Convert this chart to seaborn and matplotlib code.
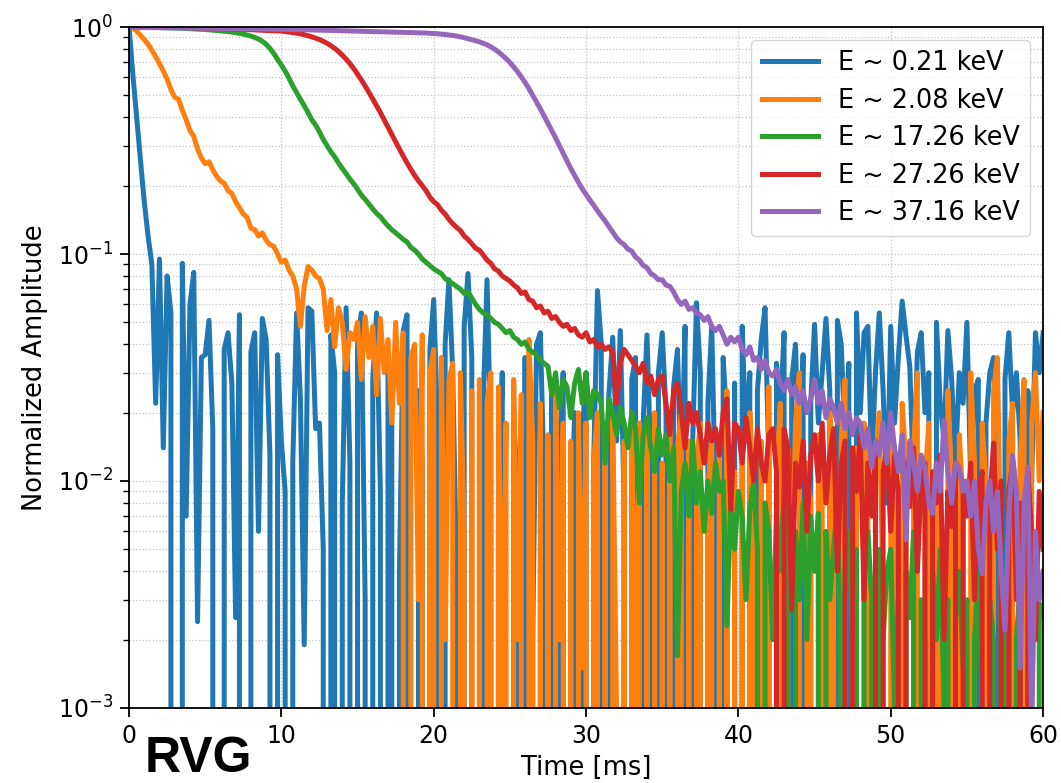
import numpy as np
import pandas as pd
import matplotlib
matplotlib.use('Agg')
import matplotlib.pyplot as plt
import seaborn as sns

# sampling step of the traces [ms]
dt = 0.25

labels = ['E ~ 0.21 keV', 'E ~ 2.08 keV', 'E ~ 17.26 keV',
          'E ~ 27.26 keV', 'E ~ 37.16 keV']
colors = ['#1f77b4', '#ff7f0e', '#2ca02c', '#d62728', '#9467bd']

# amplitudes in units of 1e-3 (1000 = 1.0), one value every 0.25 ms from 0 to 60 ms
blue = [
    1000, 620, 400, 260, 170, 120, 90, 22, 95, 14,
    80, 55, 0, 0, 91, 7, 60, 83, 2.4, 35,
    36, 51, 17, 0, 0, 38, 45, 27, 2.5, 54,
    0, 0, 37, 45, 6, 52, 42, 13, 0, 36,
    15, 9, 0, 12, 55, 23, 1.9, 58, 56, 17,
    18, 5, 0, 44, 30, 0, 8, 58, 12, 0,
    40, 55, 3, 0, 28, 55, 9, 0, 33, 20,
    0, 4, 46, 54, 0, 0, 25, 12, 0, 38,
    63, 18, 0, 40, 77, 30, 4, 0, 48, 82,
    35, 0, 0, 22, 77, 15, 0, 6, 30, 0,
    0, 18, 10, 0, 35, 0, 2, 40, 45, 10,
    0, 25, 0, 14, 30, 0, 5, 20, 0, 16,
    30, 0, 12, 69, 40, 0, 24, 43, 15, 46,
    8, 0, 28, 35, 0, 18, 44, 12, 0, 30,
    45, 20, 0, 26, 38, 10, 48, 0, 15, 61,
    30, 0, 22, 48, 8, 0, 35, 18, 0, 27,
    0, 48, 15, 30, 0, 25, 42, 58, 12, 0,
    33, 20, 45, 0, 28, 40, 10, 36, 0, 22,
    49, 18, 30, 52, 25, 0, 51, 40, 15, 33,
    0, 55, 20, 45, 48, 12, 30, 55, 25, 8,
    48, 18, 35, 62, 44, 32, 10, 37, 45, 20,
    30, 0, 50, 22, 15, 46, 28, 12, 30, 22,
    50, 10, 25, 28, 0, 18, 30, 35, 12, 0,
    28, 45, 20, 30, 15, 0, 25, 10, 45, 30,
    45]

orange = [
    1000, 990, 960, 920, 880, 840, 790, 740, 690, 640,
    590, 530, 490, 480, 430, 390, 350, 330, 290, 265,
    250, 255, 235, 220, 210, 205, 190, 185, 170, 160,
    150, 145, 130, 128, 120, 124, 115, 110, 108, 100,
    92, 94, 85, 80, 70, 48, 72, 88, 85, 80,
    78, 70, 46, 63, 39, 58, 50, 31, 45, 42,
    50, 28, 53, 35, 48, 24, 52, 30, 42, 18,
    50, 22, 45, 0, 35, 40, 3, 44, 0, 30,
    38, 0, 35, 2, 28, 33, 0, 30, 6, 0,
    25, 0, 28, 0, 22, 30, 0, 26, 1, 18,
    0, 28, 2, 24, 0, 42, 15, 0, 22, 0,
    16, 0, 26, 2, 18, 0, 15, 0, 20, 1.5,
    18, 0, 12, 20, 0, 16, 0, 19, 1, 0,
    15, 0, 20, 1, 18, 0, 16, 0, 20, 0,
    12, 0, 17, 0, 14, 20, 0, 15, 0, 12,
    18, 0, 9, 16, 0, 14, 0, 25, 0, 11,
    0, 13, 0, 20, 8, 0, 15, 0, 26, 0,
    10, 22, 0, 14, 3, 18, 30, 0, 12, 8,
    0, 16, 9, 0, 20, 12, 0, 15, 28, 0,
    6, 14, 0, 18, 10, 0, 12, 20, 3, 0,
    16, 8, 0, 22, 12, 0, 14, 30, 0, 10,
    18, 0, 12, 6, 0, 25, 10, 0, 16, 8,
    0, 30, 12, 0, 18, 10, 0, 25, 35, 4,
    0, 15, 22, 0, 12, 28, 0, 18, 30, 10,
    20]

green = [
    1000, 1000, 1000, 1000, 999, 998, 997, 996, 995, 994,
    993, 992, 990, 989, 987, 985, 983, 981, 979, 977,
    975, 972, 969, 966, 962, 958, 954, 950, 945, 938,
    930, 922, 912, 900, 885, 865, 840, 805, 765, 720,
    680, 640, 595, 550, 515, 480, 450, 420, 390, 370,
    345, 320, 300, 282, 268, 252, 238, 226, 214, 204,
    193, 182, 174, 166, 158, 151, 146, 139, 133, 128,
    124, 120, 116, 113, 107, 104, 100, 95, 92, 89,
    86, 84, 82, 78, 76, 74, 72, 70, 67, 68,
    64, 60, 57, 55, 54, 52, 50, 49, 47, 45,
    46, 43, 42, 40, 41, 38, 37, 36, 34, 33,
    32, 24, 30, 21, 28, 26, 19, 27, 31, 22,
    30, 19, 25, 24, 22, 12, 23, 20, 16, 21,
    18, 14, 20, 17, 8, 16, 19, 14, 11, 17,
    13, 16, 10, 14, 1.7, 9, 12, 7, 15, 8,
    11, 6, 10, 7.2, 12, 9, 10, 2.3, 8, 5,
    9, 7, 3, 7.5, 10, 5, 0, 8, 6, 2,
    7, 4, 9, 5, 0, 6, 3, 8, 2, 7,
    4, 7.2, 0, 6, 3, 5, 8, 1, 4, 6,
    2, 5, 0, 4, 6, 3, 0, 5, 2, 4,
    5, 1, 3, 0, 4, 2.5, 6, 0, 3, 2,
    0, 4, 2, 5, 1, 3, 0, 2.5, 4, 1.5,
    3, 0, 2, 4, 1, 0, 3, 2, 0, 2.5,
    1, 3, 0, 2, 3.5, 0, 1.5, 3, 0, 2.9,
    2.5]

red = [
    1000, 1000, 1000, 1000, 1000, 999, 999, 999, 998, 998,
    997, 997, 996, 996, 995, 994, 993, 993, 992, 991,
    990, 989, 988, 987, 986, 985, 983, 982, 980, 979,
    977, 975, 973, 971, 969, 967, 965, 963, 962, 961,
    960, 955, 950, 945, 940, 933, 925, 915, 905, 893,
    880, 865, 848, 828, 805, 780, 752, 722, 690, 656,
    620, 585, 550, 515, 482, 450, 420, 390, 362, 336,
    312, 290, 270, 252, 236, 222, 210, 200, 190, 178,
    170, 165, 156, 150, 142, 136, 131, 127, 120, 116,
    111, 106, 104, 99, 94, 91, 86, 84, 80, 78,
    76, 73, 71, 67, 68, 63, 62, 58, 59, 55,
    56, 52, 53, 50, 48, 49, 46, 47, 44, 43,
    45, 41, 42, 39, 40, 38, 39, 37, 22, 33,
    38, 36, 34, 32, 30, 33, 27, 29, 24, 28,
    29, 22, 16, 25, 27, 20, 14, 22, 18, 20,
    16, 12, 18, 15, 17, 13, 20, 23, 7.5, 18,
    17, 12, 19, 14, 10, 17, 12, 10, 16, 17,
    11, 0, 17, 14, 2.7, 12, 9.4, 15, 6, 13,
    16, 10, 18, 8, 13, 17, 4, 12, 15, 0,
    14, 9, 16, 3, 12, 7, 15, 0, 11, 14,
    6, 13, 9, 0, 12, 7.7, 14, 4, 10, 12,
    0, 11, 8, 13, 2, 9, 6.3, 12, 0, 10,
    7, 12, 3, 9, 11, 0, 8, 14.7, 5, 10,
    0, 9, 12, 3, 8, 0, 11, 6, 2, 9,
    5]

purple = [
    995, 995, 995, 994, 994, 994, 993, 993, 993, 992,
    992, 992, 991, 991, 991, 990, 990, 989, 989, 989,
    988, 988, 987, 987, 986, 986, 985, 985, 984, 984,
    983, 983, 982, 982, 981, 980, 980, 979, 978, 978,
    977, 976, 976, 975, 974, 974, 973, 972, 971, 970,
    970, 969, 968, 967, 966, 965, 964, 963, 962, 961,
    960, 959, 958, 957, 956, 955, 954, 953, 952, 951,
    950, 949, 948, 947, 946, 945, 944, 943, 941, 939,
    937, 934, 931, 927, 923, 918, 912, 905, 897, 888,
    880, 870, 860, 848, 835, 818, 798, 776, 752, 726,
    698, 668, 636, 603, 570, 535, 500, 468, 436, 405,
    376, 350, 325, 300, 278, 257, 238, 222, 207, 194,
    183, 173, 164, 155, 147, 140, 132, 125, 118, 113,
    110, 105, 103, 97, 94, 89, 87, 82, 80, 77,
    77, 73, 72, 68, 63, 60, 62, 57, 58, 55,
    54, 51, 53, 48, 46, 48, 44, 40, 43, 41,
    43, 38, 36, 39, 34, 35, 31, 34, 30, 29,
    31, 27, 25, 28, 24, 26, 22, 25, 20, 23,
    28, 22, 25, 19, 23, 21, 18, 22, 17, 20,
    16, 19, 18, 14, 17, 11.5, 15, 13, 18, 12,
    20, 14, 11, 16, 5.5, 15, 12, 9, 13, 11.5,
    8, 7.2, 12, 9, 18.5, 11, 8, 12, 11.5, 9,
    10, 7, 10, 5, 3.9, 8, 10, 6, 9, 4,
    2.2, 7, 13, 9, 1.5, 8, 11.5, 0.8, 6, 3,
    4]

series = [blue, orange, green, red, purple]

frames = []
for lab, vals in zip(labels, series):
    vals = np.array(vals, dtype=float)
    frames.append(pd.DataFrame({'t': np.arange(len(vals)) * dt,
                                'amp': vals / 1000.0,
                                'energy': lab}))
df = pd.concat(frames, ignore_index=True)

fig = plt.figure(figsize=(10.61, 7.83), dpi=100)
ax = fig.add_axes([0.1216, 0.0958, 0.8615, 0.8697])

sns.lineplot(data=df, x='t', y='amp', hue='energy', hue_order=labels,
             palette=colors, estimator=None, sort=False, linewidth=3.6, ax=ax)
for line in ax.lines:
    line.set_linewidth(3.6)

ax.set_yscale('log')
ax.set_ylim(1e-3, 1)
ax.set_xlim(0, 60)
ax.set_xticks([0, 10, 20, 30, 40, 50, 60])

ax.set_axisbelow(True)
ax.grid(True, which='both', ls=':', color='#c4c4c4', lw=0.9)

for s in ax.spines.values():
    s.set_color('black')
    s.set_linewidth(1.3)
ax.tick_params(which='major', length=6.5, width=1.3, labelsize=17, pad=5)
ax.tick_params(which='minor', length=4, width=1.0)

ax.set_xlabel('Time [ms]', fontsize=18.5, labelpad=5)
ax.set_ylabel('Normalized Amplitude', fontsize=18.5, labelpad=7)

leg = ax.get_legend()
handles = leg.legend_handles
texts = [t.get_text() for t in leg.get_texts()]
for h in handles:
    h.set_linewidth(3.6)
ax.legend(handles, texts, loc='upper right', fontsize=18.4, handlelength=2.2,
          labelspacing=0.45)

fig.text(0.136, 0.014, 'RVG', fontsize=36, fontweight='bold',
         family='Liberation Sans', va='baseline', ha='left')

fig.savefig('out.png', dpi=100)
